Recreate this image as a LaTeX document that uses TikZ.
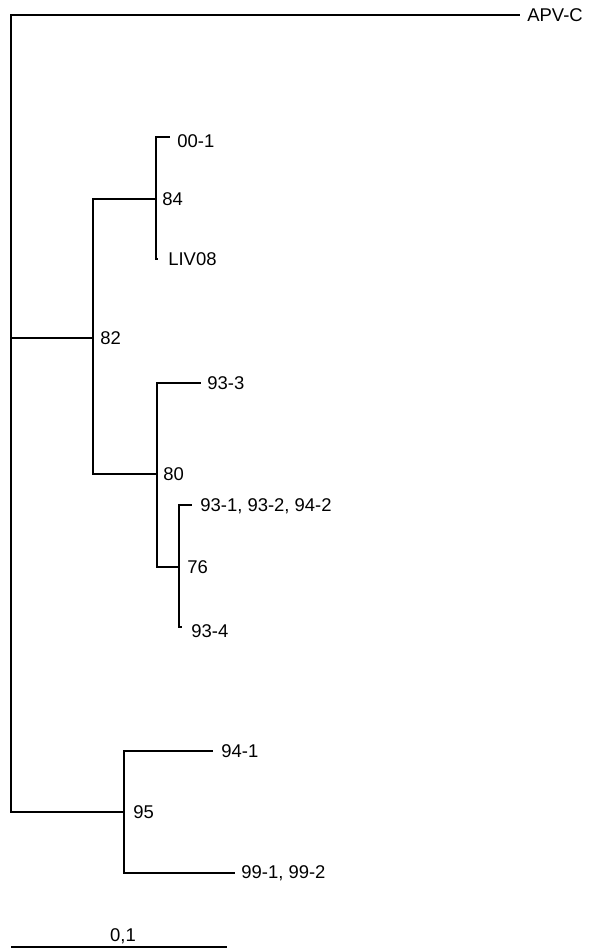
\documentclass[tikz,border=0pt]{standalone}
\usepackage{fontspec}
\setmainfont{Liberation Sans}
\usetikzlibrary{positioning}

\begin{document}
\begin{tikzpicture}[
    x=0.02cm, y=-0.02cm,
    node distance=0.14cm,
    every node/.style={font=\fontsize{10.5}{12}\selectfont, inner sep=0pt},
    branch/.style={line width=1.1pt},
    boot/.style={font=\fontsize{10.5}{12}\selectfont}
]
\useasboundingbox (0,0) rectangle (600,952);
% Inner nodes of the tree
\coordinate (root) at (11,338);
\coordinate (n82) at (93,338);
\coordinate (n84) at (156,199);
\coordinate (n80) at (157,474);
\coordinate (n76) at (179,567);
\coordinate (n95) at (124,812);
% Tips
\coordinate (tapv) at (520,15);
\coordinate (t001) at (170,137);
\coordinate (tliv) at (158,259);
\coordinate (t933) at (201,383);
\coordinate (t931) at (192,505);
\coordinate (t934) at (182,627);
\coordinate (t941) at (213,751);
\coordinate (t991) at (235,873);
% Branches
\draw[branch] (root) |- (tapv);
\draw[branch] (root) |- (n95);
\draw[branch] (root) -- (n82);
\draw[branch] (n82) |- (n84);
\draw[branch] (n82) |- (n80);
\draw[branch] (n84) |- (t001);
\draw[branch] (n84) |- (tliv);
\draw[branch] (n80) |- (t933);
\draw[branch] (n80) |- (n76);
\draw[branch] (n76) |- (t931);
\draw[branch] (n76) |- (t934);
\draw[branch] (n95) |- (t941);
\draw[branch] (n95) |- (t991);
% Tip labels
\node[right=0.14cm of tapv] (lapv) {APV-C};
\node[right=0.14cm of t001, yshift=-0.08cm] (l001) {00-1};
\node[right=0.2cm of tliv] (lliv) {LIV08};
\node[right=0.12cm of t933] (l933) {93-3};
\node[right=0.16cm of t931, yshift=-0.03cm] (l931) {93-1, 93-2, 94-2};
\node[right=0.18cm of t934, yshift=-0.08cm] (l934) {93-4};
\node[right=0.16cm of t941] (l941) {94-1};
\node[right=0.12cm of t991] (l991) {99-1, 99-2};
% Bootstrap values
\node[boot, right=0.14cm of n82] (b82) {82};
\node[boot, right=0.12cm of n84] (b84) {84};
\node[boot, right=0.12cm of n80] (b80) {80};
\node[boot, right=0.16cm of n76] (b76) {76};
\node[boot, right=0.18cm of n95] (b95) {95};
% Scale bar
\coordinate (sbl) at (11,947);
\coordinate (sbr) at (227,947);
\draw[branch] (sbl) -- (sbr);
\node (sblab) at (123,936) {0,1};
\end{tikzpicture}
\end{document}
